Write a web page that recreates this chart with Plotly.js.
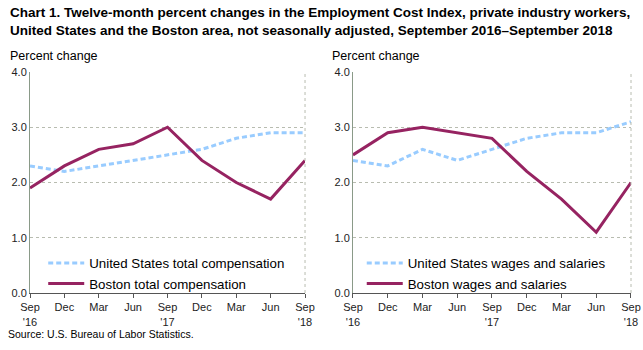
<!DOCTYPE html>
<html>
<head>
<meta charset="utf-8">
<script src="https://cdn.plot.ly/plotly-3.0.1.min.js"></script>
<style>html,body{margin:0;padding:0;background:#fff;}#chart{width:643px;height:350px;}</style>
</head>
<body>
<div id="chart"></div>
<script>
const quarters = [0, 1, 2, 3, 4, 5, 6, 7, 8];
const tickLabels = ["Sep<br>'16", "Dec", "Mar", "Jun", "Sep<br>'17", "Dec", "Mar", "Jun", "Sep<br>'18"];
const usTotalComp = [2.3, 2.2, 2.3, 2.4, 2.5, 2.6, 2.8, 2.9, 2.9];
const bostonTotalComp = [1.9, 2.3, 2.6, 2.7, 3.0, 2.4, 2.0, 1.7, 2.4];
const usWages = [2.4, 2.3, 2.6, 2.4, 2.6, 2.8, 2.9, 2.9, 3.1];
const bostonWages = [2.5, 2.9, 3.0, 2.9, 2.8, 2.2, 1.7, 1.1, 2.0];

const usColor = '#99CCFF';
const bosColor = '#962361';
const font = 'Liberation Sans, Arial, sans-serif';

const traces = [
  {x: quarters, y: usTotalComp, name: 'United States total compensation', type: 'scatter', mode: 'lines',
   line: {color: usColor, width: 3, dash: '5px,3px'}, xaxis: 'x', yaxis: 'y', legend: 'legend'},
  {x: quarters, y: bostonTotalComp, name: 'Boston total compensation', type: 'scatter', mode: 'lines',
   line: {color: bosColor, width: 3}, xaxis: 'x', yaxis: 'y', legend: 'legend'},
  {x: quarters, y: usWages, name: 'United States wages and salaries', type: 'scatter', mode: 'lines',
   line: {color: usColor, width: 3, dash: '5px,3px'}, xaxis: 'x2', yaxis: 'y2', legend: 'legend2'},
  {x: quarters, y: bostonWages, name: 'Boston wages and salaries', type: 'scatter', mode: 'lines',
   line: {color: bosColor, width: 3}, xaxis: 'x2', yaxis: 'y2', legend: 'legend2'}
];

function xax(domain, anchor) {
  return {domain: domain, anchor: anchor, range: [0, 8], tickmode: 'array', tickvals: quarters, ticktext: tickLabels,
    showgrid: false, zeroline: false, showline: true, linecolor: '#555', linewidth: 1, automargin: false,
    ticks: 'outside', ticklen: 4, tickcolor: '#555', tickfont: {family: font, size: 11, color: '#222'}};
}
function yax(anchor) {
  return {anchor: anchor, range: [0, 4], dtick: 1, tick0: 0, tickformat: '.1f', automargin: false,
    showgrid: true, gridcolor: '#b8bcb0', griddash: 'dot', gridwidth: 1, zeroline: false,
    showline: true, linecolor: '#8a9a88', linewidth: 1, ticks: '',
    tickfont: {family: font, size: 11, color: '#222'}};
}

const layout = {
  width: 643, height: 350,
  margin: {l: 30, r: 12, t: 72, b: 57, autoexpand: false},
  paper_bgcolor: '#fff', plot_bgcolor: '#fff',
  xaxis: xax([0, 0.4576], 'y'),
  yaxis: yax('x'),
  xaxis2: xax([0.5374, 1.0], 'y2'),
  yaxis2: yax('x2'),
  showlegend: true,
  legend: {x: 0.022, y: -0.027, xanchor: 'left', yanchor: 'bottom', bgcolor: 'rgba(0,0,0,0)',
    font: {family: font, size: 13.3, color: '#000'}, tracegroupgap: 0, itemwidth: 36},
  legend2: {x: 0.552, y: -0.027, xanchor: 'left', yanchor: 'bottom', bgcolor: 'rgba(0,0,0,0)',
    font: {family: font, size: 13.3, color: '#000'}, tracegroupgap: 0, itemwidth: 36},
  shapes: [
    {type: 'line', xref: 'x domain', yref: 'y domain', x0: 1, x1: 1, y0: 0, y1: 1, line: {color: '#b8bcb0', width: 1, dash: 'dot'}},
    {type: 'line', xref: 'x2 domain', yref: 'y2 domain', x0: 1, x1: 1, y0: 0, y1: 1, line: {color: '#b8bcb0', width: 1, dash: 'dot'}}
  ],
  annotations: [
    {text: '<b>Chart 1. Twelve-month percent changes in the Employment Cost Index, private industry workers,<br>United States and the Boston area, not seasonally adjusted, September 2016–September 2018</b>',
     xref: 'paper', yref: 'paper', x: -0.037, y: 1.31, xanchor: 'left', yanchor: 'top', align: 'left', showarrow: false,
     font: {family: font, size: 13.5, color: '#000'}},
    {text: 'Percent change', xref: 'paper', yref: 'paper', x: -0.037, y: 1.072, xanchor: 'left', yanchor: 'middle', showarrow: false,
     font: {family: font, size: 12.5, color: '#000'}},
    {text: 'Percent change', xref: 'paper', yref: 'paper', x: 0.499, y: 1.072, xanchor: 'left', yanchor: 'middle', showarrow: false,
     font: {family: font, size: 12.5, color: '#000'}},
    {text: 'Source: U.S. Bureau of Labor Statistics.', xref: 'paper', yref: 'paper', x: -0.04, y: -0.186, xanchor: 'left', yanchor: 'middle', showarrow: false,
     font: {family: font, size: 10.5, color: '#000'}}
  ]
};

Plotly.newPlot('chart', traces, layout, {displayModeBar: false, staticPlot: true});
</script>
</body>
</html>
